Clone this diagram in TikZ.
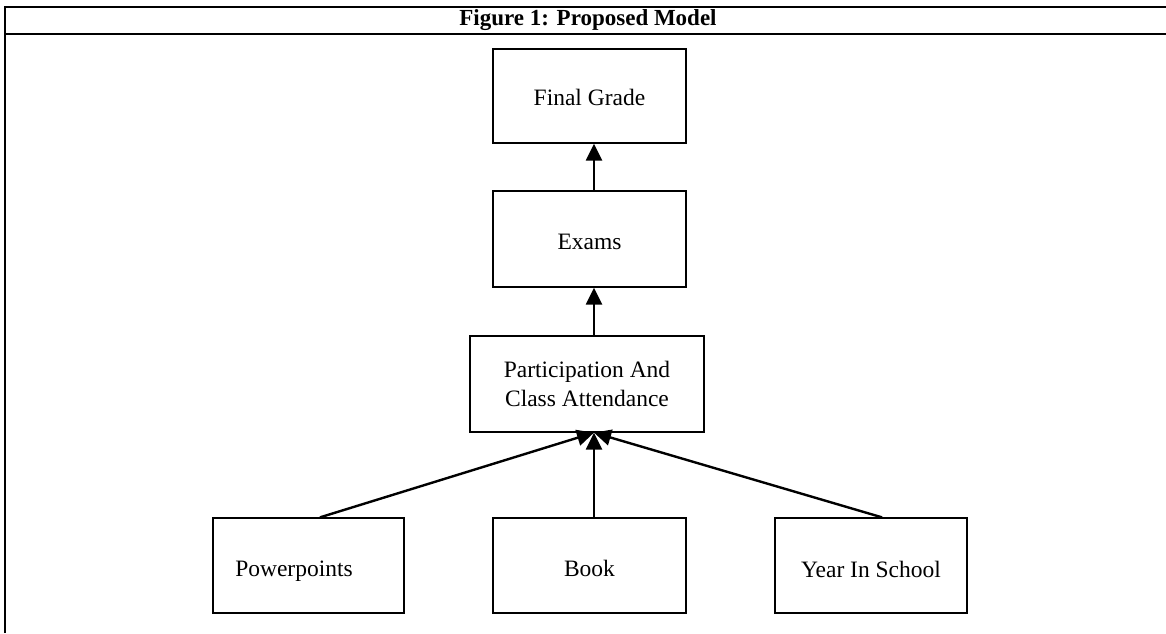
\documentclass[tikz,border=0pt]{standalone}
\usepackage{fontspec}
\setmainfont{Liberation Serif}
\usetikzlibrary{arrows.meta}
\newcommand{\lowtext}[2]{\raisebox{-#1pt}[0pt][0pt]{#2}}
\begin{document}
\begin{tikzpicture}[x=1pt,y=-1pt,
 box/.style={draw, line width=1.3pt, inner sep=0pt, align=center, font=\fontsize{23.5}{29}\selectfont},
 arr/.style={line width=2.4pt, -{Triangle[length=17pt,width=16pt]}},
 frame/.style={line width=2pt}]
\useasboundingbox (0,0) rectangle (1166,633);
\draw[frame] (5,633) -- (5,6.5) -- (1166,6.5);
\draw[frame] (5,33.5) -- (1166,33.5);
\node[font=\bfseries\fontsize{23}{28}\selectfont] (title) at (588,20) {Figure 1: Proposed Model};
\node[box, minimum width=193pt, minimum height=94pt] (fg) at (589.5,96) {\lowtext{9.5}{Final Grade}};
\node[box, minimum width=193pt, minimum height=96pt] (ex) at (589.5,239) {\lowtext{10.5}{Exams}};
\node[box, minimum width=234pt, minimum height=96pt] (pc) at (587,384) {Participation And\\Class Attendance};
\node[box, minimum width=191pt, minimum height=95pt] (pp) at (308.5,565.5) {\lowtext{10.5}{Powerpoints}\hspace{29pt}};
\node[box, minimum width=193pt, minimum height=95pt] (bk) at (589.5,565.5) {\lowtext{11}{Book}};
\node[box, minimum width=192pt, minimum height=95pt] (yr) at (871,565.5) {\lowtext{12}{Year In School}};
\draw[arr] ([xshift=4.5pt]ex.north) -- ([xshift=4.5pt]fg.south);
\draw[arr] ([xshift=7pt]pc.north) -- ([xshift=4.5pt]ex.south);
\draw[arr] ([xshift=4.5pt]bk.north) -- ([xshift=7pt]pc.south);
\draw[arr] ([xshift=11.5pt]pp.north) -- ([xshift=7pt]pc.south);
\draw[arr] ([xshift=11pt]yr.north) -- ([xshift=7pt]pc.south);
\end{tikzpicture}
\end{document}
